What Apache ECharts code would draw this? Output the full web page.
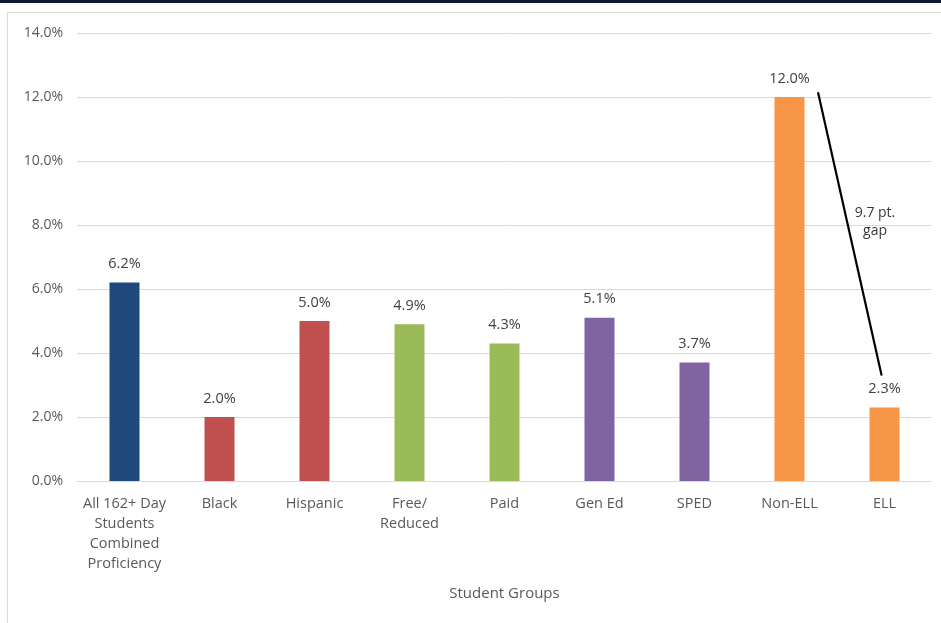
<!DOCTYPE html>
<html>
<head>
<meta charset="utf-8">
<script src="https://cdn.jsdelivr.net/npm/echarts@6/dist/echarts.min.js"></script>
<style>
html,body{margin:0;padding:0;background:#fff;}
#topbar{position:absolute;left:0;top:0;width:941px;height:3px;background:#0f1b35;}
#frame{position:absolute;left:7px;top:12px;width:940px;height:620px;border-left:1px solid #d9d9d9;border-top:1px solid #d9d9d9;}
#chart{position:absolute;left:0;top:0;width:941px;height:623px;}
</style>
</head>
<body>
<div id="topbar"></div>
<div id="frame"></div>
<div id="chart"></div>
<script>
const categories = ["All 162+ Day\nStudents\nCombined\nProficiency", "Black", "Hispanic", "Free/\nReduced", "Paid", "Gen Ed", "SPED", "Non-ELL", "ELL"];
const values = [6.2, 2.0, 5.0, 4.9, 4.3, 5.1, 3.7, 12.0, 2.3];
const barColors = ["#1f497d", "#c0504d", "#c0504d", "#9bbb59", "#9bbb59", "#8064a2", "#8064a2", "#f79646", "#f79646"];
const yTicks = [0, 2, 4, 6, 8, 10, 12, 14];
const gapLine = [[7.3, 12.15], [7.97, 3.3]];
const gapLabel = [[7.9, 8.1, "9.7 pt.\ngap"]];

const chart = echarts.init(document.getElementById('chart'));
const font = "'Open Sans', 'Noto Sans', sans-serif";
chart.setOption({
  animation: false,
  textStyle: {fontFamily: font},
  grid: {left: 77, right: 9, top: 33, bottom: 142},
  xAxis: [{
    type: 'category',
    data: categories,
    axisLine: {lineStyle: {color: '#d9d9d9', width: 1}},
    axisTick: {show: false},
    axisLabel: {color: '#595959', fontSize: 14.5, lineHeight: 20, margin: 13, interval: 0, fontFamily: font},
    name: 'Student Groups',
    nameLocation: 'middle',
    nameGap: 105,
    nameTextStyle: {color: '#595959', fontSize: 15, fontFamily: font}
  }, {
    type: 'value', min: -0.5, max: 8.5, show: false
  }],
  yAxis: {
    type: 'value', min: yTicks[0], max: yTicks[yTicks.length - 1], interval: 2,
    axisLine: {show: false}, axisTick: {show: false},
    splitLine: {lineStyle: {color: '#d9d9d9', width: 1}},
    axisLabel: {color: '#595959', fontSize: 14, margin: 14, formatter: v => v.toFixed(1) + '%', fontFamily: font}
  },
  series: [{
    type: 'bar',
    xAxisIndex: 0,
    barWidth: 30,
    data: values.map((v, i) => ({value: v, itemStyle: {color: barColors[i]}})),
    label: {show: true, position: 'top', distance: 11, color: '#404040', fontSize: 14.5, fontFamily: font, formatter: p => p.value.toFixed(1) + '%'}
  }, {
    type: 'line',
    xAxisIndex: 1,
    data: gapLine,
    symbol: 'none',
    lineStyle: {color: '#000', width: 2.2},
    z: 5
  }, {
    type: 'scatter',
    xAxisIndex: 1,
    data: gapLabel,
    symbolSize: 0,
    label: {show: true, position: 'inside', formatter: p => p.data[2], color: '#000', fontSize: 14, lineHeight: 18, fontFamily: font},
    z: 6
  }]
});
</script>
</body>
</html>
